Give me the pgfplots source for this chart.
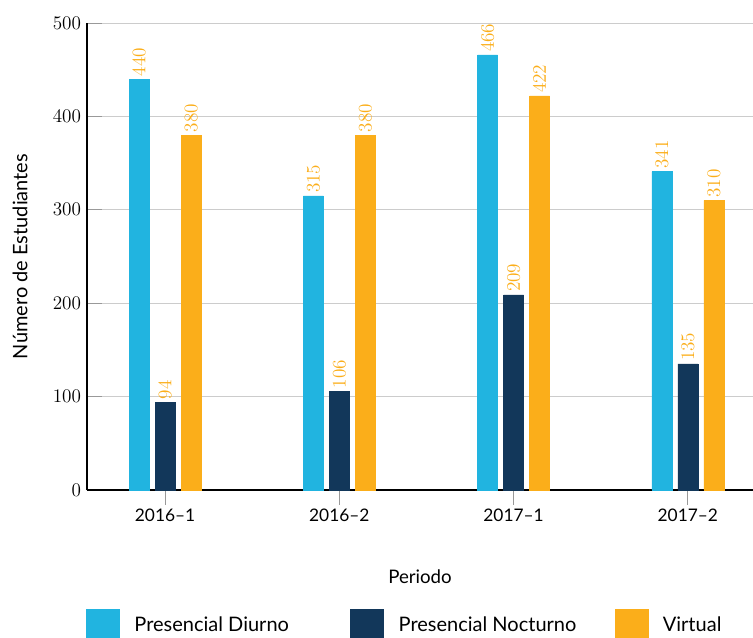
\documentclass[border=0pt]{standalone}
\usepackage{fontspec}
\setmainfont{Lato}
\usepackage{pgfplots}
\pgfplotsset{compat=1.18}
\definecolor{cblue}{HTML}{21B4E0}
\definecolor{cnavy}{HTML}{12375A}
\definecolor{corange}{HTML}{FBAE1A}
\begin{document}
\begin{tikzpicture}[x=0.75pt,y=0.75pt]
\path[use as bounding box] (-87,-147) rectangle (666,490);
\begin{axis}[
  at={(0,0)}, anchor=south west,
  scale only axis, width=499.5pt, height=350.25pt,
  ymin=0, ymax=500, xmin=-0.448, xmax=3.374,
  ybar=4.5pt, bar width=15pt,
  axis lines*=left,
  axis line style={black, line width=0.9pt},
  ymajorgrids, grid style={gray!40, line width=0.6pt},
  ytick={0,100,200,300,400,500},
  xtick={0,1,2,3},
  xticklabels={2016--1,2016--2,2017--1,2017--2},
  ytick align=inside, xtick align=outside,
  major tick length=11pt,
  tick style={gray!80, line width=0.6pt},
  yticklabel style={font=\fontsize{15}{18}\selectfont, xshift=-1pt},
  xticklabel style={font=\fontsize{13}{15}\selectfont},
  ylabel={Número de Estudiantes},
  xlabel={Periodo},
  ylabel style={font=\fontsize{15}{18}\selectfont, at={(axis description cs:-0.1006,0.5)}, anchor=center, rotate=0},
  xlabel style={font=\fontsize{14}{17}\selectfont, at={(axis description cs:0.5,-0.186)}, anchor=center},
  nodes near coords,
  every node near coord/.append style={rotate=90, anchor=west, color=corange, font=\fontsize{15}{17}\selectfont, inner xsep=2pt},
  legend columns=3,
  legend style={at={(axis description cs:-0.0075,-0.2484)}, anchor=north west, draw=none,
    font=\fontsize{15}{18}\selectfont,
    /tikz/every odd column/.append style={column sep=9pt},
    /tikz/every even column/.append style={column sep=0pt}},
  legend image code/.code={\fill (0pt,-12pt) rectangle (24.75pt,12pt);},
]
\addplot[fill=cblue, draw=cblue] coordinates {(0,440) (1,315) (2,466) (3,341)};
\addplot[fill=cnavy, draw=cnavy] coordinates {(0,94) (1,106) (2,209) (3,135)};
\addplot[fill=corange, draw=corange] coordinates {(0,380) (1,380) (2,422) (3,310)};
\addlegendentry{\makebox[160pt][l]{Presencial Diurno}}
\addlegendentry{\makebox[160pt][l]{Presencial Nocturno}}
\addlegendentry{Virtual}
\end{axis}
\end{tikzpicture}
\end{document}
